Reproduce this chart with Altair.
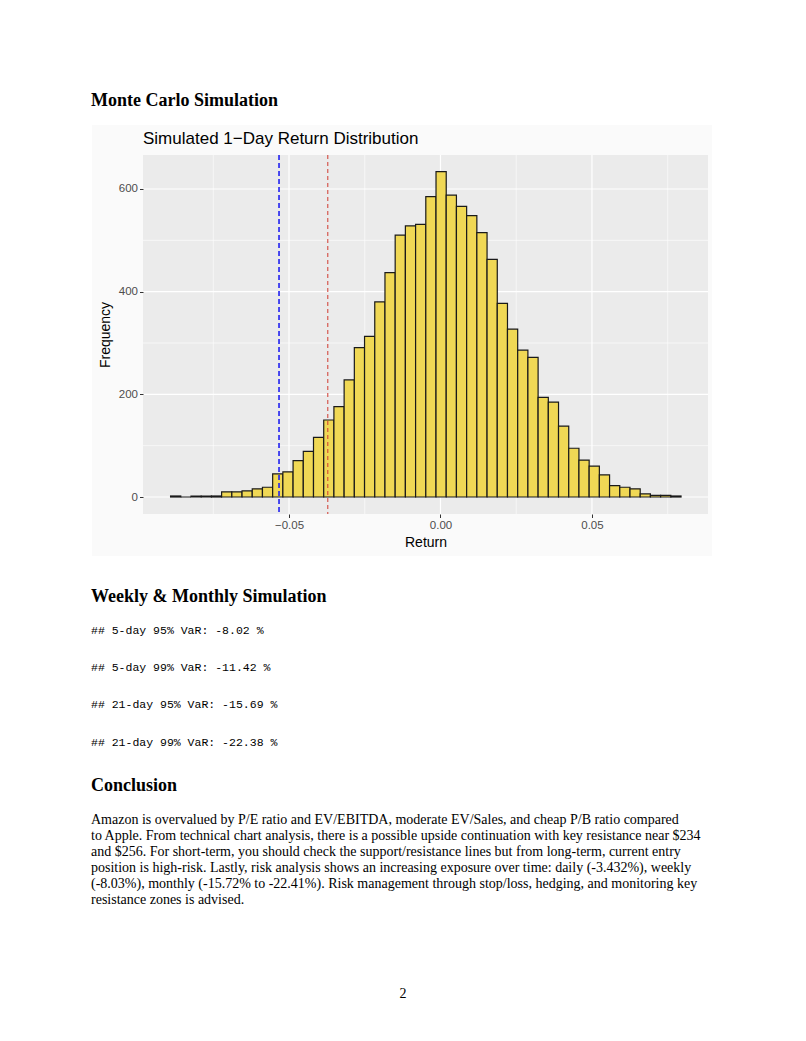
import altair as alt
import pandas as pd

# ---------------- data ----------------
counts = [2, 0, 2, 2, 2, 10, 10, 12, 16, 19,
          45, 49, 71, 89, 116, 150, 176, 228, 291, 313,
          380, 437, 510, 528, 531, 585, 634, 588, 566, 548,
          515, 463, 377, 327, 286, 272, 194, 185, 138, 95,
          72, 60, 43, 22, 19, 16, 6, 3, 3, 2]
first_edge = -0.0891
bin_width = 0.00337
var_95 = [-0.0372]
var_99 = [-0.0533]
x_ticks = [-0.05, 0.0, 0.05]
x_minor = [-0.075, -0.025, 0.025, 0.075]
y_ticks = [0, 200, 400, 600]
y_minor = [100, 300, 500]

heading1 = "Monte Carlo Simulation"
chart_title = "Simulated 1\u2212Day Return Distribution"
x_title = "Return"
y_title = "Frequency"
heading2 = "Weekly & Monthly Simulation"
mono_lines = ["## 5-day 95% VaR: -8.02 %",
              "## 5-day 99% VaR: -11.42 %",
              "## 21-day 95% VaR: -15.69 %",
              "## 21-day 99% VaR: -22.38 %"]
heading3 = "Conclusion"
para_lines = [
    "Amazon is overvalued by P/E ratio and EV/EBITDA, moderate EV/Sales, and cheap P/B ratio compared",
    "to Apple. From technical chart analysis, there is a possible upside continuation with key resistance near $234",
    "and $256. For short-term, you should check the support/resistance lines but from long-term, current entry",
    "position is high-risk. Lastly, risk analysis shows an increasing exposure over time: daily (-3.432%), weekly",
    "(-8.03%), monthly (-15.72% to -22.41%). Risk management through stop/loss, hedging, and monitoring key",
    "resistance zones is advised.",
]
page_number = "2"

# ---------------- build ----------------
edges = [first_edge + i * bin_width for i in range(len(counts) + 1)]
bars_df = pd.DataFrame({"start": edges[:-1], "end": edges[1:], "count": counts})

W, H = 565, 359
xscale = alt.Scale(domain=[-0.0982, 0.0883], nice=False, zero=False)
yscale = alt.Scale(domain=[-33.1, 666.2], nice=False, zero=False)

SANS = "Liberation Sans"
SERIF = "Liberation Serif"
MONO = "Liberation Mono"

axis_common = dict(grid=False, domain=False, tickColor="#333333", tickSize=3.5, tickWidth=1,
                   labelColor="#4D4D4D", labelFontSize=11.5, labelFont=SANS,
                   titleFont=SANS, titleFontSize=14, titleFontWeight="normal",
                   titleColor="black", zindex=1)
x_axis = alt.Axis(values=x_ticks, format=".2f", title=x_title, labelPadding=2,
                  titlePadding=4, **axis_common)
y_axis = alt.Axis(values=y_ticks, format="d", title=y_title, labelPadding=2,
                  titlePadding=6, **axis_common)


def txt(s, x, y, font, size, weight="normal", align="left", color="black"):
    return alt.Chart(alt.Data(values=[{"t": s}])).mark_text(
        font=font, fontSize=size, fontWeight=weight, align=align,
        baseline="alphabetic", color=color
    ).encode(text="t:N", x=alt.value(x), y=alt.value(y))


outer_bg = alt.Chart(alt.Data(values=[{}])).mark_rect(color="#FAFAFA").encode(
    x=alt.value(-51), x2=alt.value(569), y=alt.value(-30), y2=alt.value(401))
panel_bg = alt.Chart(alt.Data(values=[{}])).mark_rect(color="#EBEBEB").encode(
    x=alt.value(0), x2=alt.value(W), y=alt.value(0), y2=alt.value(H))


def vgrid(vals, width):
    return alt.Chart(pd.DataFrame({"v": vals})).mark_rule(color="white", strokeWidth=width).encode(
        x=alt.X("v:Q", scale=xscale, axis=x_axis))


def hgrid(vals, width):
    return alt.Chart(pd.DataFrame({"v": vals})).mark_rule(color="white", strokeWidth=width).encode(
        y=alt.Y("v:Q", scale=yscale, axis=y_axis))


bars = alt.Chart(bars_df).mark_rect(
    fill="#F0D855", stroke="#1A1A1A", strokeWidth=1.2
).encode(
    x=alt.X("start:Q", scale=xscale, axis=x_axis),
    x2="end:Q",
    y=alt.Y("count:Q", scale=yscale, axis=y_axis),
    y2=alt.datum(0),
)

blue_line = alt.Chart(pd.DataFrame({"v": var_99})).mark_rule(
    color="#2020F0", strokeWidth=1.6, strokeDash=[5, 3]).encode(
    x=alt.X("v:Q", scale=xscale, axis=x_axis))
red_line = alt.Chart(pd.DataFrame({"v": var_95})).mark_rule(
    color="#D03A30", strokeWidth=1.0, strokeDash=[4, 3]).encode(
    x=alt.X("v:Q", scale=xscale, axis=x_axis))

OX, OY = 143, 155  # plot origin on the page
texts = [
    txt(heading1, 91 - OX, 106 - OY, SERIF, 18, "bold"),
    txt(chart_title, 143 - OX, 144 - OY, SANS, 17),
    txt(heading2, 91 - OX, 602 - OY, SERIF, 18, "bold"),
]
for i, s in enumerate(mono_lines):
    texts.append(txt(s, 91 - OX, 634 + i * 37.2 - OY, MONO, 11.5))
texts.append(txt(heading3, 91 - OX, 791 - OY, SERIF, 18, "bold"))
for i, s in enumerate(para_lines):
    texts.append(txt(s, 91 - OX, 824 + i * 16 - OY, SERIF, 14))
texts.append(txt(page_number, 403 - OX, 998 - OY, SERIF, 14, align="center"))

chart = alt.layer(
    outer_bg, panel_bg,
    vgrid(x_minor, 0.6), hgrid(y_minor, 0.6),
    vgrid(x_ticks, 1.2), hgrid(y_ticks, 1.2),
    bars, blue_line, red_line,
    *texts,
).resolve_scale(x="shared", y="shared").properties(
    width=W, height=H,
    autosize=alt.AutoSizeParams(type="none"),
    padding={"left": 135, "top": 147, "right": 90, "bottom": 490},
).configure_view(stroke=None)

chart.save("out.html", embed_options={"renderer": "svg", "actions": False})
